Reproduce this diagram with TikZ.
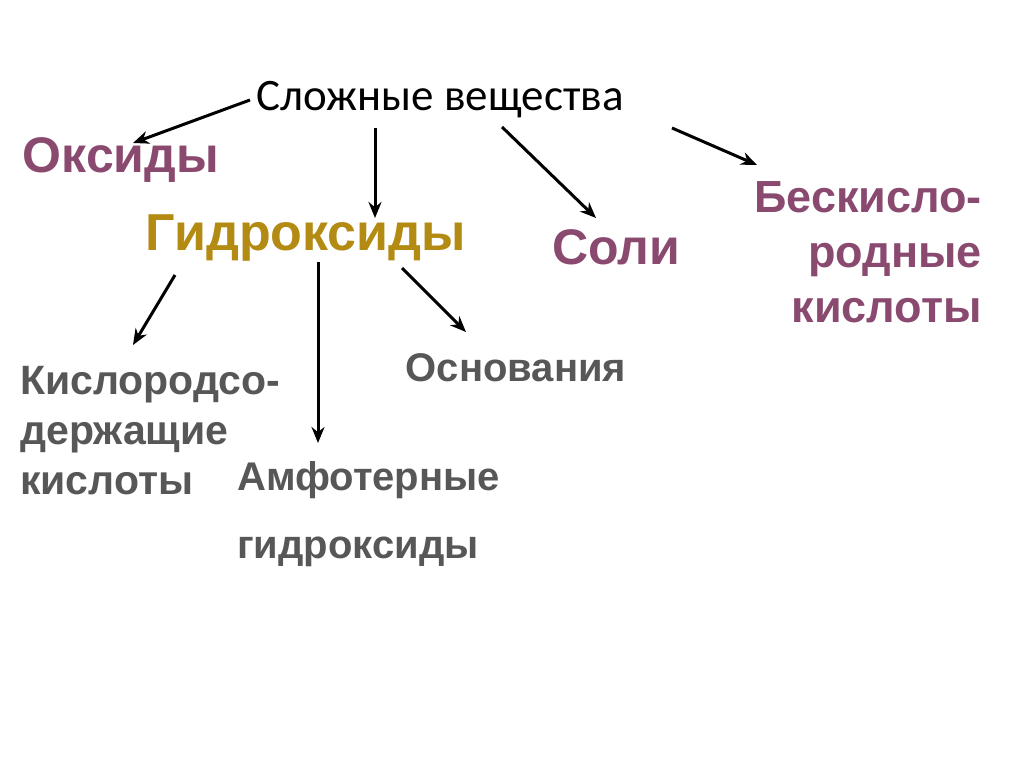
\documentclass[tikz,border=0pt]{standalone}
\usetikzlibrary{arrows.meta}
\usepackage{fontspec}
\setmainfont{Liberation Sans}
\newfontfamily\calib{Carlito}
\definecolor{purp}{HTML}{8A4A70}
\definecolor{gold}{HTML}{B38A12}
\definecolor{gr}{HTML}{575757}
\begin{document}
\begin{tikzpicture}[x=1pt,y=-1pt,
  pl/.style={font=\fontsize{50}{55}\selectfont\bfseries,text=purp,inner sep=0},
  gy/.style={font=\fontsize{40}{50}\selectfont\bfseries,text=gr,inner sep=0},
  arr/.style={-{Stealth[length=16pt,width=13pt]},line width=3pt}]
\useasboundingbox (0,0) rectangle (1024,767);
\node[font=\calib\fontsize{45}{50}\selectfont,inner sep=0] (t) at (440,100) {Сложные вещества};
\node[pl] (ox) at (121,160) {Оксиды};
\node[font=\fontsize{52}{55}\selectfont\bfseries,text=gold,inner sep=0] (hy) at (306,238) {Гидроксиды};
\node[pl] (so) at (616,247) {Соли};
\node[pl,font=\fontsize{45}{55}\selectfont\bfseries,align=right] (bk) at (868,252) {Бескисло-\\родные\\кислоты};
\node[gy] (os) at (516,368) {Основания};
\node[gy,align=left,anchor=west,font=\fontsize{41}{50}\selectfont\bfseries] (ks) at (20,431) {Кислородсо-\\держащие\\кислоты};
\node[gy,anchor=west] (am) at (237,480) {Амфотерные};
\node[gy,anchor=west] (ag) at (237,552) {гидроксиды};
\coordinate (a1) at (250,100); \coordinate (b1) at (133,143);
\coordinate (a2) at (375,128); \coordinate (b2) at (375,218);
\coordinate (a3) at (502,127); \coordinate (b3) at (596,218);
\coordinate (a4) at (672,128); \coordinate (b4) at (757,165);
\coordinate (a5) at (175,275); \coordinate (b5) at (133,345);
\coordinate (a6) at (318,262); \coordinate (b6) at (318,443);
\coordinate (a7) at (402,268); \coordinate (b7) at (466,332);
\foreach \i in {1,...,7} \draw[arr] (a\i) -- (b\i);
\end{tikzpicture}
\end{document}
